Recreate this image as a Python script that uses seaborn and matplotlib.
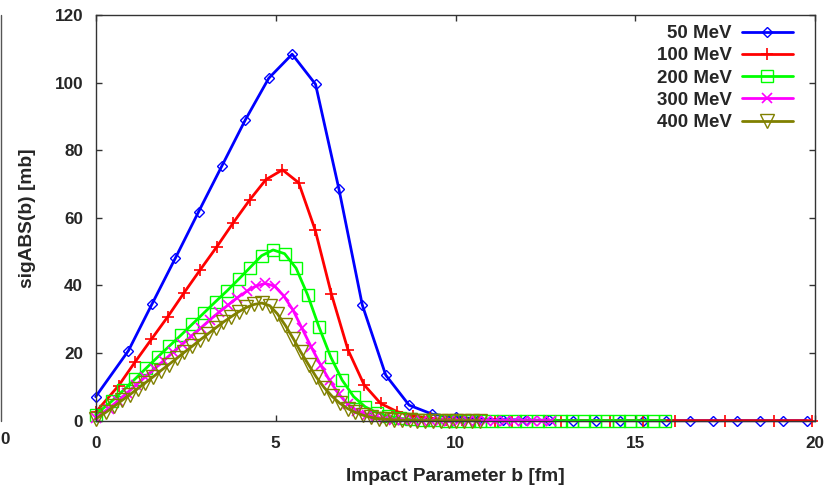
import matplotlib
matplotlib.use("Agg")
import matplotlib.pyplot as plt
from matplotlib.lines import Line2D
import pandas as pd
import seaborn as sns

# ---------------- data ----------------
labels = ["50 MeV", "100 MeV", "200 MeV", "300 MeV", "400 MeV"]

b_50 = [0.00, 0.91, 1.56, 2.21, 2.86, 3.51, 4.16, 4.81, 5.46, 6.11, 6.76, 7.41,
        8.06, 8.71, 9.36, 10.01, 10.66, 11.31, 11.96, 12.61, 13.26, 13.91, 14.56,
        15.21, 15.86, 16.51, 17.16, 17.81, 18.46, 19.11, 19.76]
sig_50 = [7.1, 20.7, 34.4, 48.0, 61.8, 75.4, 89.0, 101.3, 108.4, 99.5, 68.5, 34.2,
          13.5, 4.6, 1.9, 1.0, 0.5, 0.3, 0.2, 0.1, 0.05, 0.03, 0.02, 0.01,
          0.0, 0.0, 0.0, 0.0, 0.0, 0.0, 0.0]

b_100 = [0.00, 0.64, 1.09, 1.55, 2.00, 2.46, 2.91, 3.37, 3.82, 4.28, 4.73, 5.19,
         5.64, 6.10, 6.55, 7.01, 7.46, 7.92, 8.37, 8.83, 9.28, 9.74, 10.19, 10.65,
         11.10, 11.56, 12.93, 14.30, 15.20, 16.11, 17.50, 18.84, 19.90]
sig_100 = [2.5, 10.4, 17.3, 24.1, 30.7, 37.9, 44.7, 51.5, 58.5, 65.3, 71.3, 74.2,
           70.4, 56.4, 37.5, 21.0, 10.6, 5.1, 2.7, 1.4, 0.7, 0.35, 0.2, 0.1,
           0.05, 0.03, 0.0, 0.0, 0.0, 0.0, 0.0, 0.0, 0.0]

b_200 = [0.00, 0.45, 0.77, 1.09, 1.41, 1.73, 2.05, 2.37, 2.69, 3.01, 3.33, 3.65,
         3.97, 4.29, 4.61, 4.93, 5.25, 5.57, 5.89, 6.21, 6.53, 6.85, 7.17, 7.49,
         7.81, 8.13, 8.45, 8.77, 9.09, 9.41, 9.73, 10.05, 10.37, 10.69, 11.01,
         11.33, 11.65, 11.97, 12.29, 12.61, 12.93, 13.25, 13.57, 13.89, 14.21,
         14.53, 14.85, 15.17, 15.49, 15.81]
sig_200 = [1.8, 5.8, 9.0, 12.3, 15.6, 18.9, 22.1, 25.3, 28.6, 31.9, 35.2, 38.4,
           41.8, 45.3, 48.8, 50.5, 49.4, 45.1, 37.2, 27.6, 18.9, 12.0, 7.1, 4.1,
           2.4, 1.3, 0.7, 0.4, 0.2, 0.1, 0.05, 0.0, 0.0, 0.0, 0.0,
           0.0, 0.0, 0.0, 0.0, 0.0, 0.0, 0.0, 0.0, 0.0, 0.0,
           0.0, 0.0, 0.0, 0.0, 0.0]

b_300 = [0.00, 0.36, 0.61, 0.87, 1.13, 1.38, 1.64, 1.89, 2.15, 2.41, 2.66, 2.92,
         3.17, 3.43, 3.69, 3.94, 4.20, 4.45, 4.71, 4.97, 5.22, 5.48, 5.73, 5.99,
         6.25, 6.50, 6.76, 7.01, 7.27, 7.53, 7.78, 8.04, 8.29, 8.55, 8.81, 9.06,
         9.32, 9.57, 9.83, 10.09, 10.34, 10.60, 10.85, 11.11, 11.37, 11.62, 11.88,
         12.13, 12.39, 12.65]
sig_300 = [0.8, 3.6, 5.8, 8.2, 10.6, 13.0, 15.4, 17.8, 20.2, 22.6, 25.0, 27.4,
           29.8, 32.1, 34.3, 36.4, 38.3, 39.8, 40.6, 39.8, 37.0, 32.8, 27.4, 21.8,
           16.5, 11.9, 7.8, 4.8, 2.9, 1.8, 1.1, 0.6, 0.35, 0.2, 0.1, 0.05,
           0.0, 0.0, 0.0, 0.0, 0.0, 0.0, 0.0, 0.0, 0.0, 0.0, 0.0,
           0.0, 0.0, 0.0]

b_400 = [0.00, 0.30, 0.52, 0.73, 0.95, 1.17, 1.38, 1.60, 1.81, 2.03, 2.25, 2.46,
         2.68, 2.89, 3.11, 3.33, 3.54, 3.76, 3.97, 4.19, 4.41, 4.62, 4.84, 5.05,
         5.27, 5.49, 5.70, 5.92, 6.13, 6.35, 6.57, 6.78, 7.00, 7.21, 7.43, 7.65,
         7.86, 8.08, 8.29, 8.51, 8.73, 8.94, 9.16, 9.37, 9.59, 9.81, 10.02, 10.24,
         10.45, 10.67]
sig_400 = [0.5, 2.6, 4.3, 6.0, 7.7, 9.5, 11.2, 13.0, 14.8, 16.6, 18.4, 20.2,
           22.0, 23.8, 25.6, 27.4, 29.1, 30.7, 32.2, 33.5, 34.4, 34.8, 34.0, 31.6,
           28.2, 24.3, 20.3, 16.5, 12.9, 9.8, 7.2, 5.2, 3.6, 2.5, 1.6, 1.0,
           0.6, 0.4, 0.25, 0.15, 0.1, 0.05, 0.0, 0.0, 0.0, 0.0, 0.0, 0.0,
           0.0, 0.0]

x_ticks = [0, 5, 10, 15, 20]
y_ticks = [0, 20, 40, 60, 80, 100, 120]
x_label = "Impact Parameter b [fm]"
y_label = "sigABS(b) [mb]"

# ---------------- style ----------------
sns.set_theme(style="white")
plt.rcParams["font.family"] = ["Liberation Sans", "DejaVu Sans"]
plt.rcParams["font.weight"] = "bold"
FS_TICK = 12.3
FS_LABEL = 13.8
FS_LEG = 13.5

fig = plt.figure(figsize=(8.32, 4.91), dpi=100)
ax = fig.add_axes([0.115, 0.1432, 0.865, 0.8263])

styles = [
    (b_50, sig_50, "#0000ff", "D", 5.4, 1.0),
    (b_100, sig_100, "#ff0000", "+", 9.0, 1.2),
    (b_200, sig_200, "#00ff00", "s", 8.6, 1.0),
    (b_300, sig_300, "#ff00ff", "x", 7.0, 1.2),
    (b_400, sig_400, "#808000", "v", 9.6, 1.0),
]

for lab, (xs, ys, col, mk, ms, mew) in zip(labels, styles):
    df = pd.DataFrame({"b": xs, "sig": ys})
    sns.lineplot(data=df, x="b", y="sig", ax=ax, color=col, linewidth=2.0,
                 marker=mk, markersize=ms, markerfacecolor="none",
                 markeredgecolor=col, markeredgewidth=mew, label=lab,
                 estimator=None, sort=False, clip_on=False)

ax.set_xlim(0, 20)
ax.set_ylim(0, 120)
ax.set_xticks(x_ticks)
ax.set_yticks(y_ticks)
ax.set_xticklabels([str(t) for t in x_ticks], fontsize=FS_TICK, fontweight="bold")
ax.set_yticklabels([str(t) for t in y_ticks], fontsize=FS_TICK, fontweight="bold")
ax.tick_params(direction="in", length=4, width=1, color="#333333",
               top=True, right=True, bottom=True, left=True)
ax.tick_params(axis="x", pad=11)
ax.tick_params(axis="y", pad=9)
for sp in ax.spines.values():
    sp.set_visible(True)
    sp.set_color("#333333")
    sp.set_linewidth(1.0)

ax.set_xlabel(x_label, fontsize=FS_LABEL, fontweight="bold")
ax.set_ylabel(y_label, fontsize=FS_LABEL, fontweight="bold")
ax.xaxis.set_label_coords(0.5, -0.117)
ax.yaxis.set_label_coords(-0.083, 0.5)

leg = ax.legend(loc="upper right", bbox_to_anchor=(0.993, 1.017), markerfirst=False,
                frameon=False, handlelength=2.77, handletextpad=0.53,
                labelspacing=0.277, numpoints=1,
                prop={"weight": "bold", "size": FS_LEG})

# remnants of an adjacent panel at the far left edge
fig.text(5 / 832, 1 - 440 / 491, "0", ha="center", va="center",
         fontsize=FS_TICK, fontweight="bold")
fig.add_artist(Line2D([0.6 / 832, 0.6 / 832], [1 - 421 / 491, 1 - 15 / 491],
                      transform=fig.transFigure, color="#555555", lw=1.0))

fig.savefig("out.png", dpi=100)
